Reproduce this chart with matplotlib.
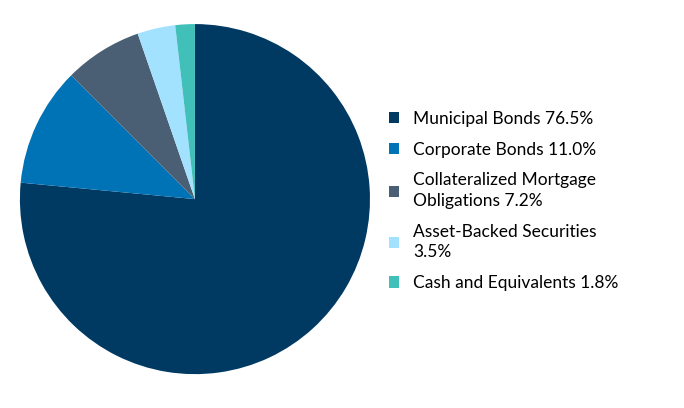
import matplotlib
matplotlib.use("Agg")
import matplotlib.pyplot as plt

labels = ["Municipal Bonds 76.5%", "Corporate Bonds 11.0%",
          "Collateralized Mortgage\nObligations 7.2%", "Asset-Backed Securities\n3.5%",
          "Cash and Equivalents 1.8%"]
values = [76.5, 11.0, 7.2, 3.5, 1.8]
colors = ["#003a63", "#0073b7", "#4a5f73", "#a3e2ff", "#40c0b8"]

plt.rcParams['font.family'] = ['Lato', 'DejaVu Sans']
fig = plt.figure(figsize=(6.84, 4.08), dpi=100)
ax = fig.add_axes([0.029, 0.083, 0.512, 0.858])
wedges, _ = ax.pie(values, colors=colors, startangle=90, counterclock=False,
                   wedgeprops=dict(linewidth=0))
ax.set_xlim(-1, 1)
ax.set_ylim(-1, 1)
ax.set_aspect('equal')
leg = fig.legend(wedges, labels, loc='upper left', bbox_to_anchor=(0.558, 0.745),
                 frameon=False, fontsize=12.5, handlelength=0.6, handleheight=0.6,
                 handletextpad=0.8, labelspacing=0.85, borderaxespad=0)
for t in leg.get_texts():
    t.set_linespacing(1.35)
fig.savefig("out.png", dpi=100)
